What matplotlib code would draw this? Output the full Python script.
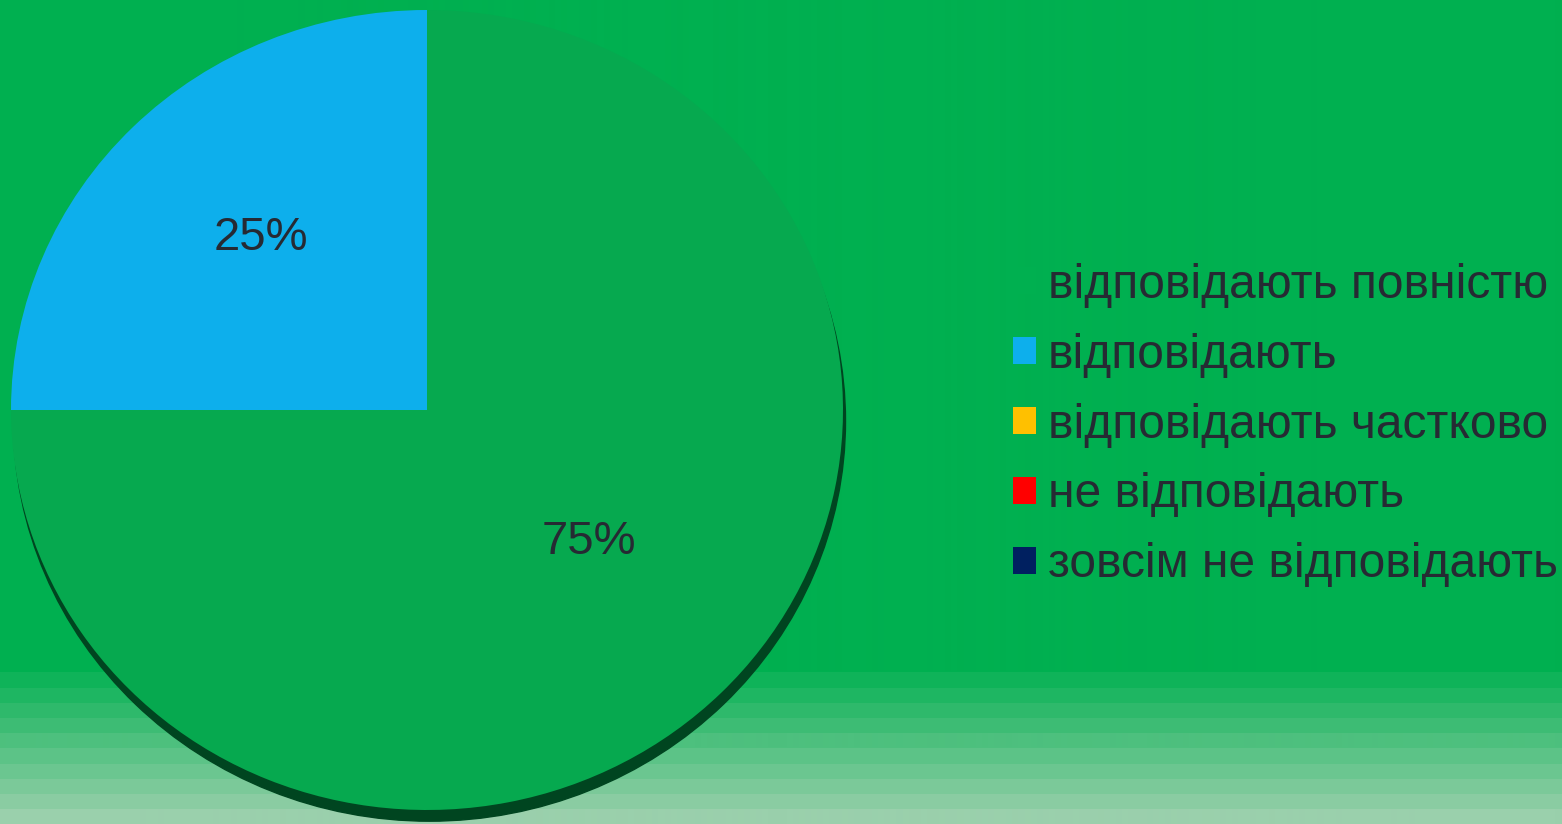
import numpy as np
import matplotlib.pyplot as plt
from matplotlib.patches import Ellipse

# data
labels = ['відповідають повністю', 'відповідають', 'відповідають частково',
          'не відповідають', 'зовсім не відповідають']
values = [75, 25, 0, 0, 0]
colors = ['#06A94F', '#0DAFEC', '#FFC000', '#FF0000', '#002060']

bg = '#00B050'
text_col = '#262A33'

W, H = 1562, 824
fig = plt.figure(figsize=(W / 100, H / 100), dpi=100, facecolor=bg)

# background with the pale band at the bottom
bg_ax = fig.add_axes([0, 0, 1, 1], zorder=-10)
bg_ax.set_axis_off()
grad = np.zeros((H, 1, 3))
top = np.array([0x00, 0xB0, 0x50]) / 255
bottom = np.array([0x9A, 0xD0, 0xAC]) / 255
start = 672
for y in range(H):
    if y < start:
        grad[y, 0] = top
    else:
        t = (y - start) / (H - start)
        t = np.floor(t * 10) / 10 + 0.1  # banded like the original
        grad[y, 0] = top + (bottom - top) * min(t, 1)
bg_ax.imshow(grad, aspect='auto', extent=[0, 1, 0, 1])
bg_ax.set_xlim(0, 1)
bg_ax.set_ylim(0, 1)

# pie drawn as a slightly squashed ellipse
rx, ry = 416, 400
cx, cy = 427, 410
ax = fig.add_axes([(cx - rx) / W, 1 - (cy + ry) / H, 2 * rx / W, 2 * ry / H])
ax.set_facecolor('none')
ax.set_axis_off()

# dark rim under the pie
ax.add_patch(Ellipse((0.006, -0.028), 2.0, 2.0, color='#004520', zorder=0,
                     clip_on=False))

wedges, texts, autotexts = ax.pie(
    values, colors=colors, startangle=90, counterclock=False,
    autopct=lambda p: f'{p:.0f}%' if p > 0 else '',
    radius=1.0, frame=False,
    wedgeprops=dict(linewidth=0, zorder=1),
    textprops=dict(color=text_col, fontsize=34, family='Liberation Sans'))
for w in wedges:
    w.set_clip_on(False)
ax.set_xlim(-1, 1)
ax.set_ylim(-1, 1)
ax.set_aspect('auto')

# label positions inside the slices
autotexts[0].set_position((0.39, -0.33))
autotexts[1].set_position((-0.40, 0.43))
for t in autotexts:
    t.set_zorder(3)

leg = fig.legend(wedges, labels, loc='center left', bbox_to_anchor=(1013 / W, 1 - 425 / H),
                 frameon=False, prop=dict(family='Liberation Sans', size=34.5),
                 labelcolor=text_col, handlelength=0.48, handleheight=0.48,
                 handletextpad=0.25, labelspacing=0.52, borderaxespad=0,
                 borderpad=0)
# first marker blends into the background as in the original
leg.legend_handles[0].set_facecolor(bg)

fig.savefig('out.png', dpi=100, facecolor=bg)
